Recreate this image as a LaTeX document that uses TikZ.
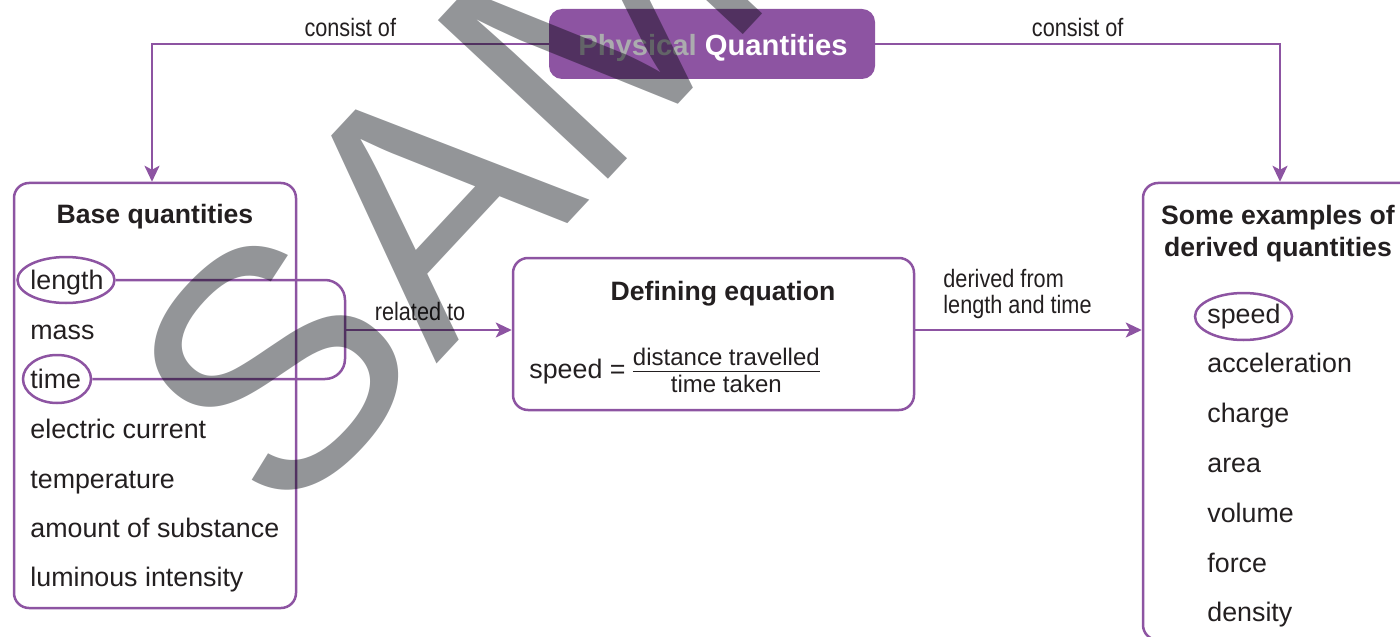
\documentclass[tikz,border=0pt]{standalone}
\usepackage{fontspec}
\setmainfont{Liberation Sans}
\newfontfamily\condfont{Liberation Sans}[FakeStretch=0.86]
\usetikzlibrary{arrows.meta,shapes.geometric}
\definecolor{plum}{HTML}{8D54A2}
\definecolor{ink}{HTML}{231F20}
\definecolor{wmgrey}{HTML}{939598}
\definecolor{fadedtext}{HTML}{ABACAE}

\tikzset{
  frame/.style={draw=plum, line width=1.25pt, rounded corners=7.5pt, inner sep=0},
  link/.style={draw=plum, line width=1.25pt},
  arr/.style={link, -{Stealth[length=8pt,width=7.5pt,inset=2pt]}},
  ring/.style={ellipse, draw=plum, line width=1.25pt, inner sep=0},
  item/.style={anchor=base west, inner sep=0, text=ink, font=\fontsize{13.4}{16}\selectfont},
  head/.style={inner sep=0, text=ink, font=\bfseries\fontsize{13.3}{16}\selectfont, align=center},
  lbl/.style={inner sep=0, text=ink, font=\condfont\fontsize{12.6}{12.6}\selectfont},
}

\begin{document}
\begin{tikzpicture}[x=0.5pt,y=-0.5pt]
\useasboundingbox (0,0) rectangle (1400,636);
\clip (0,0) rectangle (1400,636);

% title block
\node[fill=plum, rounded corners=6.5pt, minimum width=163pt, minimum height=35pt,
      inner sep=0] (phys) at (712,44) {};
\node[inner sep=0, anchor=base, font=\bfseries\fontsize{14.6}{16}\selectfont, text=white]
      (physlabel) at (713,56) {\textcolor{fadedtext}{Physical} Quantities};

% frames
\node[frame, minimum width=141pt, minimum height=212.5pt] (base) at (155,395.5) {};
\node[frame, minimum width=200.5pt, minimum height=76pt] (def) at (713.5,334) {};
\node[frame, minimum width=137pt, minimum height=228.5pt] (der) at (1280,411.5) {};

% headings (multi-line nodes sit on the baseline of their last line)
\node[head, anchor=base] (basehead) at (155,223) {Base quantities};
\node[head, anchor=base] (defhead) at (723,300) {Defining equation};
\node[head, anchor=base] (derhead) at (1278,256) {Some examples of\\derived quantities};

% base quantities
\node[item] (len)  at (30,289) {length};
\node[item] (mass) at (30,339) {mass};
\node[item] (time) at (30,388) {time};
\node[item] (cur)  at (30,438) {electric current};
\node[item] (temp) at (30,488) {temperature};
\node[item] (amt)  at (30,537) {amount of substance};
\node[item] (lum)  at (30,586) {luminous intensity};

% derived quantities
\node[item] (speed) at (1207,323) {speed};
\node[item] (acc)   at (1207,372) {acceleration};
\node[item] (chg)   at (1207,422) {charge};
\node[item] (area)  at (1207,472) {area};
\node[item] (vol)   at (1207,522) {volume};
\node[item] (force) at (1207,572) {force};
\node[item] (dens)  at (1207,621) {density};

% defining equation: a stacked fraction built from a two-row tabular
\node[item] (eq) at (529,378) {speed = \raisebox{-7pt}{\fontsize{12}{14}\selectfont
  \renewcommand{\arraystretch}{0}%
  \setlength{\arrayrulewidth}{0.7pt}\setlength{\tabcolsep}{0pt}%
  \begin{tabular}[b]{c}distance travelled\rule[-3pt]{0pt}{3pt}\\\hline
  \rule{0pt}{9.8pt}time taken\end{tabular}}};

% rings
\node[ring, minimum width=48.5pt, minimum height=23pt] (lenring) at (66,280) {};
\node[ring, minimum width=34pt, minimum height=24pt] (timering) at (57,379) {};
\node[ring, minimum width=48.5pt, minimum height=23.5pt] (speedring) at (1243.5,316.5) {};

% connectors
\draw[arr] (phys.west) -| node[lbl, pos=0.25, above=3pt] (c1) {consist of} ([xshift=-1.5pt]base.north);
\draw[arr] (phys.east) -| node[lbl, pos=0.25, above=3pt] (c2) {consist of} (der.north);

\coordinate (brk) at (345,330);
\draw[link, rounded corners=10pt] (lenring.east) -- (lenring.east -| brk)
      -- (timering.east -| brk) -- (timering.east);
\draw[arr] (brk) -- node[lbl, pos=0.45, above=4pt] (rel) {related to} (brk -| def.west);
\draw[arr] (brk -| def.east) -- (brk -| der.west);
\node[lbl, anchor=base west, align=left] (dlab) at (943,313) {derived from\\length and time};

% watermark
\begin{scope}[blend mode=multiply]
\node[rotate=47, anchor=base west, inner sep=0, text=wmgrey,
      font=\fontsize{169}{169}\selectfont] (wm) at (282,530) {SAMPLE};
\end{scope}
\end{tikzpicture}
\end{document}
